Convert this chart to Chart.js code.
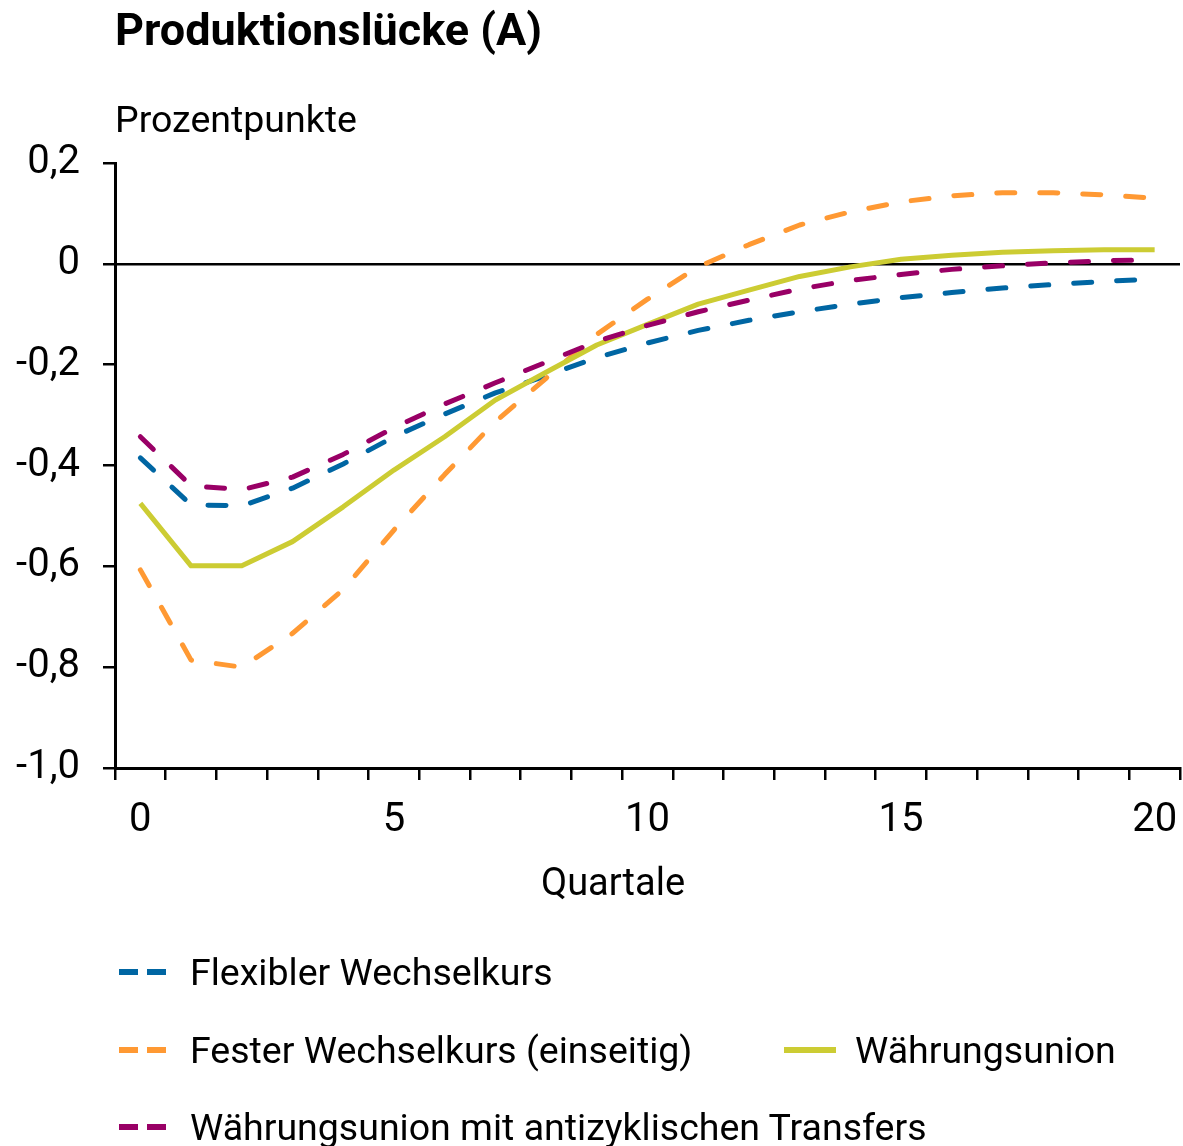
<!DOCTYPE html>
<html lang="de">
<head>
<meta charset="utf-8">
<title>Produktionslücke (A)</title>
<script src="https://cdn.jsdelivr.net/npm/chart.js@4.4.0/dist/chart.umd.min.js"></script>
<style>
  html, body { margin: 0; padding: 0; background: #fff; }
  body { width: 1183px; height: 1146px; position: relative; overflow: hidden;
         font-family: "Roboto", sans-serif; color: #000; }
  #wrap { position: absolute; left: 0; top: 0; width: 1183px; height: 1146px; }
  .txt { position: absolute; white-space: nowrap; line-height: 1; }
  #title { left: 115px; top: 7px; font-size: 45px; font-weight: bold; }
  #unit { left: 115px; top: 101px; font-size: 37.5px; }
  #xtitle { left: 541px; top: 863px; font-size: 38px; }
  .legtxt { position: absolute; white-space: nowrap; line-height: 40px; height: 40px; font-size: 37.5px; }
  .legmark { position: absolute; }
</style>
</head>
<body>
<div id="wrap"><canvas id="chart"></canvas></div>
<div class="txt" id="title">Produktionslücke (A)</div>
<div class="txt" id="unit">Prozentpunkte</div>
<div class="txt" id="xtitle">Quartale</div>
<div id="legend"></div>
<script>
// Quarters after the shock
const quarters = ['0','1','2','3','4','5','6','7','8','9','10','11','12','13','14','15','16','17','18','19','20'];
const xTickLabels = ['0','5','10','15','20'];
const yTickValues = [0.2, 0, -0.2, -0.4, -0.6, -0.8, -1.0];

// Output gap responses, percentage points
const flexiblerWechselkurs = [-0.385,-0.478,-0.48,-0.445,-0.397,-0.343,-0.298,-0.256,-0.222,-0.186,-0.157,-0.132,-0.112,-0.095,-0.08,-0.067,-0.057,-0.048,-0.041,-0.035,-0.030];
const festerWechselkurs = [-0.607,-0.786,-0.80,-0.733,-0.646,-0.528,-0.418,-0.313,-0.227,-0.14,-0.07,-0.006,0.038,0.077,0.103,0.123,0.135,0.141,0.141,0.137,0.13];
const waehrungsunion = [-0.475,-0.599,-0.599,-0.551,-0.482,-0.409,-0.343,-0.27,-0.215,-0.161,-0.12,-0.08,-0.052,-0.025,-0.006,0.009,0.017,0.023,0.026,0.028,0.028];
const waehrungsunionTransfers = [-0.343,-0.44,-0.448,-0.423,-0.378,-0.325,-0.278,-0.236,-0.195,-0.154,-0.122,-0.095,-0.072,-0.05,-0.033,-0.021,-0.011,-0.004,0.002,0.006,0.008];

const seriesNames = ['Flexibler Wechselkurs', 'Fester Wechselkurs (einseitig)', 'Währungsunion', 'Währungsunion mit antizyklischen Transfers'];

const BLUE = '#0066a3', ORANGE = '#ff9933', OLIVE = '#cccc33', PURPLE = '#990066';
const DASH = [18, 25];
const FONT = '"Roboto", sans-serif';

function lineSet(label, data, color, dashed, order) {
  return {
    label, data, order,
    borderColor: color, backgroundColor: color,
    borderWidth: 5, borderDash: dashed ? DASH : [],
    borderCapStyle: dashed ? 'round' : 'butt', borderJoinStyle: 'round',
    pointRadius: 0, tension: 0, fill: false
  };
}

const fmt = v => {
  const r = Math.round(v * 10) / 10;
  if (r === 0) return '0';
  return r.toFixed(1).replace('.', ',');
};

new Chart(document.getElementById('chart'), {
  type: 'line',
  data: {
    labels: quarters,
    datasets: [
      lineSet(seriesNames[0], flexiblerWechselkurs, BLUE, true, 4),
      lineSet(seriesNames[1], festerWechselkurs, ORANGE, true, 3),
      lineSet(seriesNames[2], waehrungsunion, OLIVE, false, 2),
      lineSet(seriesNames[3], waehrungsunionTransfers, PURPLE, true, 1)
    ]
  },
  options: {
    responsive: true, maintainAspectRatio: false, animation: false,
    layout: { padding: { top: 163, right: 3, bottom: 248, left: 0 } },
    plugins: { legend: { display: false }, tooltip: { enabled: false } },
    scales: {
      x: {
        type: 'category', offset: true,
        afterFit: s => { s.height = 130; s.paddingLeft = 0; s.paddingRight = 0; },
        border: { display: true, color: '#000', width: 3 },
        grid: { offset: true, drawOnChartArea: false, drawTicks: true, tickLength: 12, color: '#000', lineWidth: 2.5 },
        ticks: {
          autoSkip: false, maxRotation: 0, padding: 17, color: '#000',
          font: { family: FONT, size: 40 },
          callback: function (val) {
            const l = this.getLabelForValue(val);
            return xTickLabels.includes(l) ? l : '';
          }
        }
      },
      y: {
        min: -1.0, max: 0.2,
        afterFit: s => { s.width = 115; },
        afterBuildTicks: s => { s.ticks = yTickValues.map(v => ({ value: v })); },
        border: { display: true, color: '#000', width: 3 },
        grid: {
          drawOnChartArea: true, drawTicks: true, tickLength: 12,
          color: c => (c.tick && c.tick.value === 0) ? '#000' : 'rgba(0,0,0,0)',
          tickColor: '#000', lineWidth: 2.5
        },
        ticks: { padding: 23, color: '#000', font: { family: FONT, size: 40 }, callback: v => fmt(v) }
      }
    }
  }
});

// Legend entries: marker position and text position
const legendItems = [
  { name: seriesNames[0], color: BLUE, dashed: true, x: 119, tx: 190, y: 972 },
  { name: seriesNames[1], color: ORANGE, dashed: true, x: 119, tx: 190, y: 1050 },
  { name: seriesNames[2], color: OLIVE, dashed: false, x: 784, tx: 855, y: 1050 },
  { name: seriesNames[3], color: PURPLE, dashed: true, x: 119, tx: 190, y: 1127 }
];
const legendBox = document.getElementById('legend');
legendItems.forEach(it => {
  const c = document.createElement('canvas');
  c.className = 'legmark';
  c.width = it.dashed ? 47 : 52; c.height = 6;
  c.style.left = it.x + 'px';
  c.style.top = (it.y - 3) + 'px';
  const g = c.getContext('2d');
  g.fillStyle = it.color;
  if (it.dashed) { g.fillRect(0, 0, 19, 6); g.fillRect(28, 0, 19, 6); }
  else { g.fillRect(0, 0, 52, 6); }
  legendBox.appendChild(c);
  const span = document.createElement('div');
  span.className = 'legtxt';
  span.style.left = it.tx + 'px';
  span.style.top = (it.y - 20) + 'px';
  span.textContent = it.name;
  legendBox.appendChild(span);
});
</script>
</body>
</html>
